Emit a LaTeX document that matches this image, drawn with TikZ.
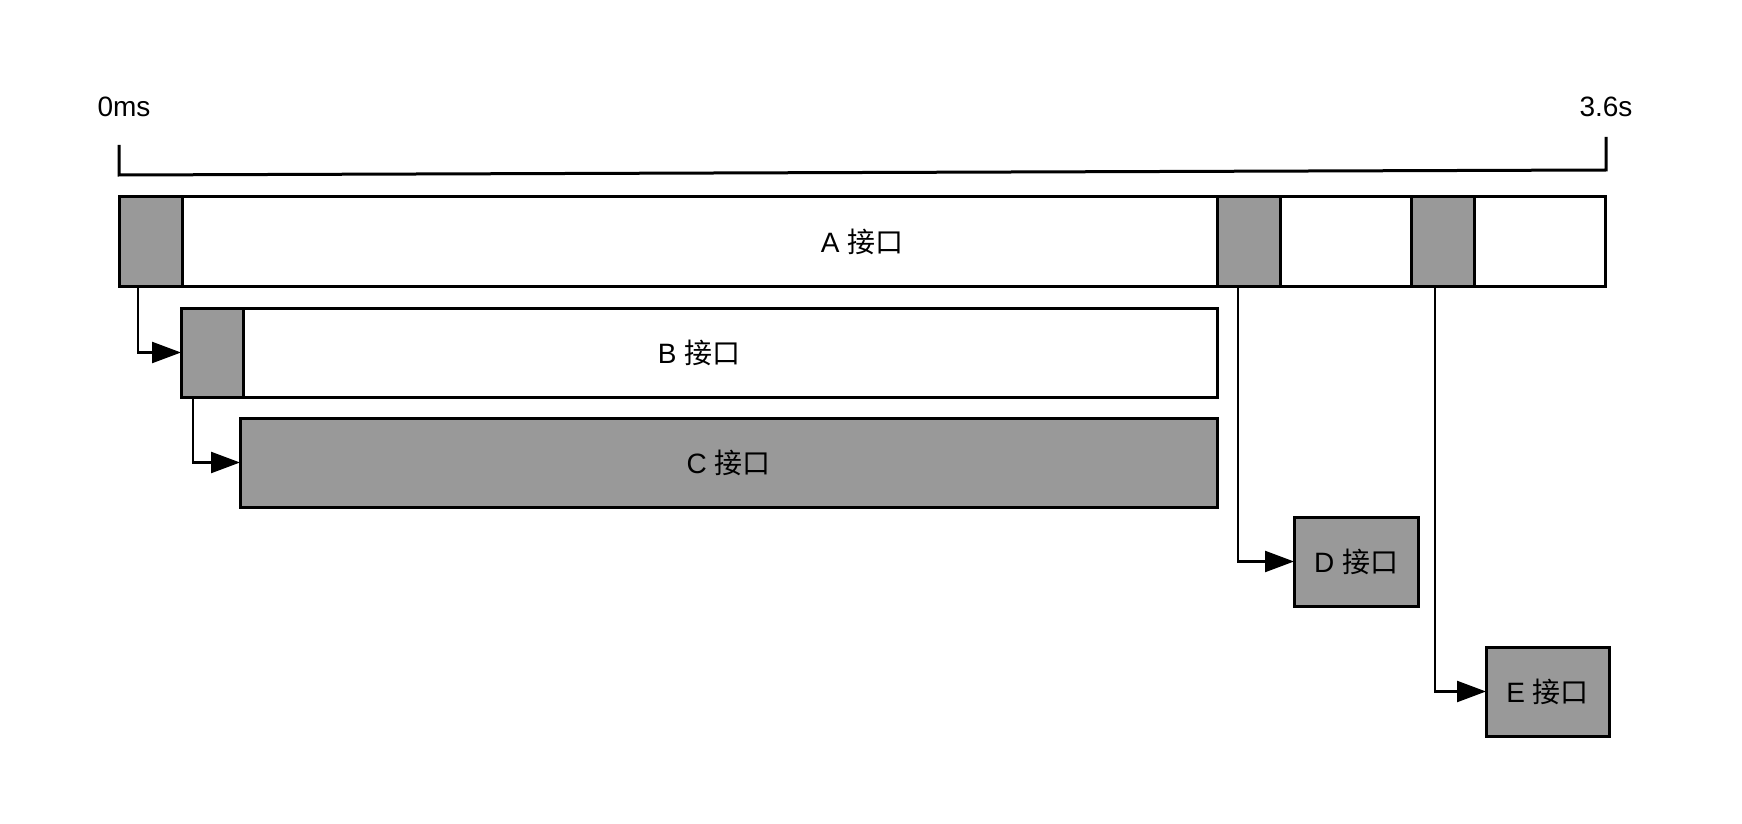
\documentclass[tikz,border=0pt]{standalone}
\usepackage{fontspec}
\setmainfont{Liberation Sans}
\newfontfamily\cjk{Noto Sans CJK SC}
\usetikzlibrary{arrows.meta}
\definecolor{cellgray}{HTML}{999999}
\begin{document}
\begin{tikzpicture}[x=0.5pt,y=-0.5pt,
  font=\fontsize{14pt}{16pt}\selectfont,
  bar/.style={draw,line width=1.5pt,inner sep=0pt,outer sep=0pt,anchor=north west,minimum height=44.5pt},
  whitebar/.style={bar,fill=white},
  graybar/.style={bar,fill=cellgray},
  conn/.style={draw,line width=1.2pt,-{Triangle[length=14.5pt,width=10.5pt]}},
  bracket/.style={draw,line width=1.5pt},
  lbl/.style={inner sep=0pt}]
\useasboundingbox[fill=white] (0,0) rectangle (1742,824);
% time labels
\node[lbl] (t0) at (124,107) {0ms};
\node[lbl] (t1) at (1606,107) {3.6s};
% bracket
\coordinate (b0) at (119,145);
\coordinate (b1) at (119,175);
\coordinate (b2) at (1606,170);
\coordinate (b3) at (1606,137);
\draw[bracket] (b0) -- (b1) -- (b2) -- (b3);
% A
\node[whitebar,minimum width=743pt] (A) at (119,197) {A {\cjk 接口}};
\node[graybar,minimum width=31.5pt] (a1) at (119,197) {};
\node[graybar,minimum width=31.5pt] (a2) at (1217,197) {};
\node[graybar,minimum width=31.5pt] (a3) at (1411,197) {};
% B
\node[whitebar,minimum width=518pt] (B) at (181,308) {B {\cjk 接口}};
\node[graybar,minimum width=31pt] (b1c) at (181,308) {};
% C
\node[graybar,minimum width=488.5pt] (C) at (240,418) {C {\cjk 接口}};
% D, E
\node[graybar,minimum width=62pt] (D) at (1294,517) {D {\cjk 接口}};
\node[graybar,minimum width=61.5pt] (E) at (1486,647) {E {\cjk 接口}};
% connectors
\draw[conn] ([xshift=9.5pt]a1.south west) |- (B.west);
\draw[conn] ([xshift=6pt]b1c.south west) |- (C.west);
\draw[conn] ([xshift=10.5pt]a2.south west) |- (D.west);
\draw[conn] ([xshift=12pt]a3.south west) |- (E.west);
\end{tikzpicture}
\end{document}
